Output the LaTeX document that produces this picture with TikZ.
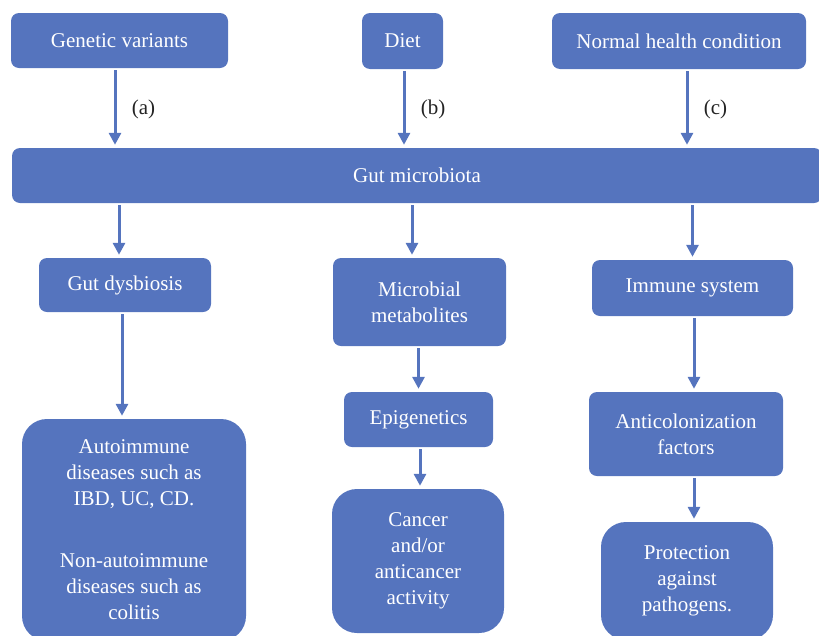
\documentclass[tikz,border=0pt]{standalone}
\usepackage{fontspec}
\setmainfont{Liberation Serif}
\usetikzlibrary{arrows.meta}
\definecolor{boxblue}{RGB}{85,116,190}
\definecolor{lblgray}{RGB}{35,35,35}
\tikzset{
  box/.style={fill=boxblue, rounded corners=8pt, text=white, align=center,
              inner sep=0pt, font=\fontsize{21}{26}\selectfont},
  bigbox/.style={box, rounded corners=25pt},
  arr/.style={draw=boxblue, line width=3pt, -{Triangle[width=12pt,length=12pt]},
              shorten <=2pt, shorten >=3pt},
  lbl/.style={text=lblgray, font=\fontsize{21}{26}\selectfont, right, xshift=12pt, yshift=-1pt}
}
\begin{document}
\begin{tikzpicture}[x=1pt,y=-1pt]
  \useasboundingbox (0,0) rectangle (819,635);
  % top row
  \node[box, minimum width=217pt, minimum height=55pt] (gen) at (119.5,40.5) {Genetic variants};
  \node[box, minimum width=81pt, minimum height=56pt] (diet) at (402.5,41) {Diet};
  \node[box, minimum width=254pt, minimum height=56pt] (normal) at (679,41) {Normal health condition};
  % central bar
  \node[box, minimum width=810pt, minimum height=55pt] (gut) at (417,175.5) {Gut microbiota};
  % second row
  \node[box, minimum width=172pt, minimum height=54pt] (dys) at (125,285) {Gut dysbiosis};
  \node[box, minimum width=173pt, minimum height=88pt] (metab) at (419.5,302) {Microbial\\metabolites};
  \node[box, minimum width=201pt, minimum height=56pt] (immune) at (692.5,288) {Immune system};
  % lower rows
  \node[box, minimum width=149pt, minimum height=55pt] (epi) at (418.5,419.5) {Epigenetics};
  \node[box, minimum width=194pt, minimum height=84pt] (anti) at (686,434) {Anticolonization\\factors};
  \node[bigbox, minimum width=224pt, minimum height=222pt] (auto) at (134,530)
    {Autoimmune\\diseases such as\\IBD, UC, CD.\\[36pt]Non-autoimmune\\diseases such as\\colitis};
  \node[bigbox, minimum width=172pt, minimum height=144pt] (cancer) at (418,561)
    {Cancer\\and/or\\anticancer\\activity};
  \node[bigbox, minimum width=172pt, minimum height=118pt] (prot) at (687,581)
    {Protection\\against\\pathogens.};

  % inputs into the gut microbiota
  \draw[arr] ([xshift=-4.5pt]gen.south) -- ([xshift=-4.5pt]gen.south |- gut.north) node[lbl, midway] {(a)};
  \draw[arr] ([xshift=1.5pt]diet.south) -- ([xshift=1.5pt]diet.south |- gut.north) node[lbl, midway] {(b)};
  \draw[arr] ([xshift=8pt]normal.south) -- ([xshift=8pt]normal.south |- gut.north) node[lbl, midway] {(c)};

  % outputs of the gut microbiota
  \draw[arr] ([xshift=-6pt]dys.north |- gut.south) -- ([xshift=-6pt]dys.north);
  \draw[arr] ([xshift=-7.5pt]metab.north |- gut.south) -- ([xshift=-7.5pt]metab.north);
  \draw[arr] (immune.north |- gut.south) -- (immune.north);

  % chains below
  \draw[arr] ([xshift=-3pt]dys.south) -- ([xshift=-3pt]dys.south |- auto.north);
  \draw[arr] (epi.north |- metab.south) -- (epi.north);
  \draw[arr] ([xshift=1.5pt]epi.south) -- ([xshift=1.5pt]epi.south |- cancer.north);
  \draw[arr] ([xshift=1.5pt]immune.south) -- ([xshift=1.5pt]immune.south |- anti.north);
  \draw[arr] ([xshift=8pt]anti.south) -- ([xshift=8pt]anti.south |- prot.north);
\end{tikzpicture}
\end{document}
